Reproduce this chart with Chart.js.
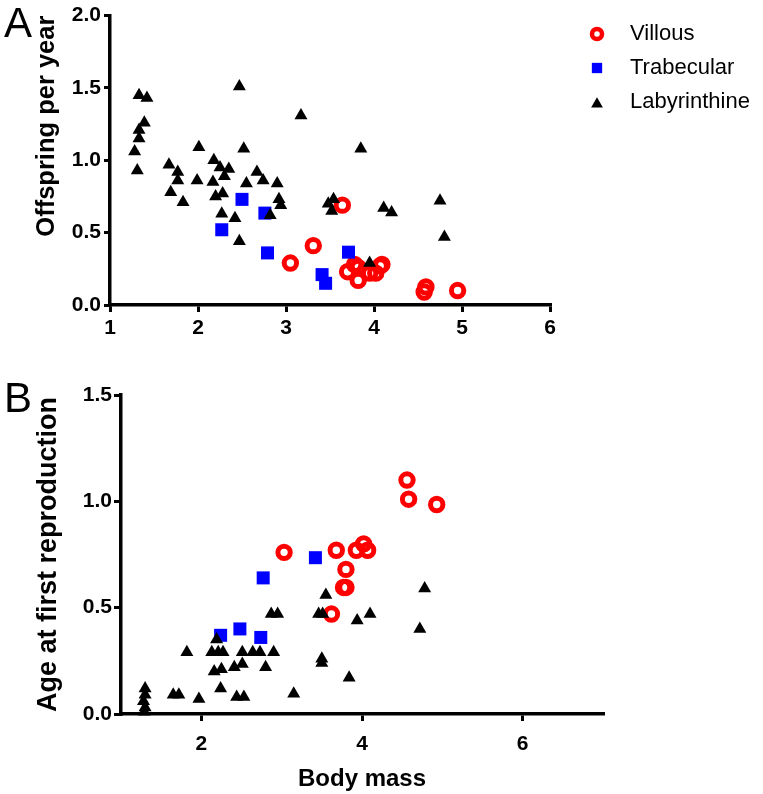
<!DOCTYPE html>
<html>
<head>
<meta charset="utf-8">
<script src="https://cdn.jsdelivr.net/npm/chart.js@4.4.1/dist/chart.umd.min.js"></script>
<style>
  body { margin: 0; background: #fff; width: 763px; height: 794px; overflow: hidden; position: relative; }
  canvas { position: absolute; left: 0; }
  #chartA { top: 0; }
  #chartB { top: 360px; }
  .panel { position: absolute; font-family: Arial, "Liberation Sans", sans-serif; font-size: 42px; line-height: 1; color: #000; }
</style>
</head>
<body>
<canvas id="chartA" width="763" height="350"></canvas>
<canvas id="chartB" width="763" height="434"></canvas>
<div class="panel" style="left:4px;top:2px;">A</div>
<div class="panel" style="left:4px;top:377px;">B</div>
<script>
// ===== Data: panel A (offspring per year vs body mass) =====
const seriesNames = ["Villous", "Trabecular", "Labyrinthine"];

const xA_vil = [3.05, 3.31, 3.64, 3.70, 3.78, 3.82, 3.82, 3.95, 4.02, 4.07, 4.09, 4.57, 4.59, 4.95];
const yA_vil = [0.29, 0.41, 0.69, 0.23, 0.28, 0.26, 0.17, 0.22, 0.22, 0.27, 0.28, 0.09, 0.125, 0.10];

const xA_tra = [2.27, 2.50, 2.76, 2.79, 3.41, 3.45, 3.71];
const yA_tra = [0.52, 0.73, 0.635, 0.36, 0.21, 0.15, 0.365];

const xA_lab = [1.33, 1.42, 1.39, 1.33, 1.33, 1.28, 1.31, 1.67, 1.77, 1.77, 1.69, 1.83, 2.01, 1.99, 2.17,
  2.18, 2.25, 2.35, 2.30, 2.20, 2.28, 2.27, 2.42, 2.47, 2.47, 2.52, 2.55, 2.67, 2.74, 2.82, 2.90, 2.92,
  2.94, 3.17, 3.85, 3.48, 3.54, 3.52, 4.11, 4.20, 4.75, 4.80, 3.95];
const yA_lab = [1.45, 1.43, 1.26, 1.21, 1.15, 1.06, 0.93, 0.97, 0.92, 0.86, 0.78, 0.71, 1.09, 0.86, 0.85,
  1.00, 0.95, 0.94, 0.89, 0.75, 0.77, 0.63, 0.60, 0.44, 1.51, 1.08, 0.84, 0.92, 0.86, 0.62, 0.84, 0.73,
  0.69, 1.31, 1.08, 0.70, 0.73, 0.65, 0.67, 0.64, 0.72, 0.47, 0.29];

// ===== Data: panel B (age at first reproduction vs body mass) =====
const xB_vil = [3.03, 3.68, 3.93, 4.02, 4.07, 3.80, 3.77, 3.80, 3.62, 4.56, 4.58, 4.93];
const yB_vil = [0.76, 0.77, 0.77, 0.80, 0.77, 0.68, 0.595, 0.595, 0.47, 1.10, 1.01, 0.985];

const xB_tra = [2.24, 2.48, 2.74, 2.77, 3.42];
const yB_tra = [0.37, 0.40, 0.36, 0.64, 0.735];

const xB_lab = [2.87, 2.95, 2.19, 1.82, 2.13, 2.21, 2.27, 2.51, 2.64, 2.73, 2.90, 2.16, 2.25, 2.41, 2.51,
  2.80, 2.24, 2.44, 2.53, 1.97, 1.65, 1.72, 1.30, 1.28, 1.30, 1.30, 1.29, 3.15, 3.55, 3.46, 3.51, 3.94,
  4.10, 4.78, 4.72, 3.50, 3.50, 3.84];
const yB_lab = [0.47, 0.47, 0.35, 0.29, 0.29, 0.29, 0.29, 0.29, 0.29, 0.29, 0.29, 0.20, 0.21, 0.22, 0.235,
  0.22, 0.12, 0.08, 0.08, 0.07, 0.09, 0.09, 0.12, 0.06, 0.03, 0.09, 0.01, 0.095, 0.56, 0.47, 0.47, 0.44,
  0.47, 0.59, 0.40, 0.26, 0.24, 0.17];

// ===== Axis ticks =====
const xTicksA = [1, 2, 3, 4, 5, 6];
const yTicksA = [0, 0.5, 1.0, 1.5, 2.0];
const xTicksB = [2, 4, 6];
const yTicksB = [0, 0.5, 1.0, 1.5];

// ===== Helpers =====
const FONT = "Arial, 'Liberation Sans', sans-serif";

function pts(xs, ys) {
  return xs.map((x, i) => ({ x, y: ys[i] }));
}

function makeDatasets(vx, vy, tx, ty, lx, ly) {
  return [
    { label: seriesNames[0], data: pts(vx, vy), order: 2, clip: false,
      pointStyle: "circle", pointRadius: 6.2, pointHoverRadius: 6.2, pointBorderWidth: 5,
      pointBackgroundColor: "rgba(0,0,0,0)", pointBorderColor: "#ff0000", legendRadius: 5, legendBorder: 4.5 },
    { label: seriesNames[1], data: pts(tx, ty), order: 1, clip: false,
      pointStyle: "rect", pointRadius: 9.2, pointHoverRadius: 9.2, pointBorderWidth: 0,
      pointBackgroundColor: "#0000ff", pointBorderColor: "#0000ff", legendRadius: 7.3, legendBorder: 0 },
    { label: seriesNames[2], data: pts(lx, ly), order: 0, clip: false,
      pointStyle: "triangle", pointRadius: 7.5, pointHoverRadius: 7.5, pointBorderWidth: 0,
      pointBackgroundColor: "#000", pointBorderColor: "#000", legendRadius: 6.8, legendBorder: 0 }
  ];
}

function axis(min, max, tickVals, opts) {
  return {
    type: "linear", min, max,
    afterBuildTicks: s => { s.ticks = tickVals.map(v => ({ value: v })); },
    afterFit: opts.fit,
    border: { display: true, color: "#000", width: 3.5 },
    grid: { drawOnChartArea: false, drawTicks: true, tickLength: opts.tickLength, color: "#000", lineWidth: 3 },
    ticks: { color: "#000", padding: opts.padding, font: { family: FONT, size: 21, weight: "bold" },
      callback: opts.fmt, maxRotation: 0, autoSkip: false },
    title: opts.title
  };
}

// legend at the right of panel A, drawn from the datasets
const sideLegend = {
  id: "sideLegend",
  afterDraw(chart, args, o) {
    if (!o.show) return;
    const ctx = chart.ctx;
    ctx.save();
    chart.data.datasets.forEach((ds, i) => {
      const y = o.top + i * o.step;
      ctx.fillStyle = ds.pointBackgroundColor;
      ctx.strokeStyle = ds.pointBorderColor;
      ctx.lineWidth = ds.legendBorder;
      const cy = ds.pointStyle === "triangle" ? y + 2 : y;
      Chart.helpers.drawPoint(ctx, { pointStyle: ds.pointStyle, radius: ds.legendRadius, borderWidth: ds.legendBorder }, o.markerX, cy);
      ctx.fillStyle = "#000";
      ctx.font = "22px " + FONT;
      ctx.textBaseline = "middle";
      ctx.textAlign = "left";
      ctx.fillText(ds.label, o.textX, y);
    });
    ctx.restore();
  }
};

Chart.defaults.animation = false;

// ===== Panel A =====
new Chart(document.getElementById("chartA"), {
  type: "scatter",
  data: { datasets: makeDatasets(xA_vil, yA_vil, xA_tra, yA_tra, xA_lab, yA_lab) },
  options: {
    responsive: false,
    layout: { padding: { left: 0, top: 13, right: 213, bottom: 5 } },
    plugins: {
      tooltip: { enabled: false },
      legend: { display: false },
      sideLegend: { show: true, markerX: 597, textX: 630, top: 34, step: 34 }
    },
    scales: {
      x: axis(1, 6, xTicksA, { tickLength: 7, padding: 4, fmt: v => v, fit: s => { s.height = 40; } }),
      y: axis(0, 2, yTicksA, { tickLength: 6, padding: 3, fmt: v => v.toFixed(1), fit: s => { s.width = 110; },
        title: { display: true, text: "Offspring per year", color: "#000", align: "end",
          font: { family: FONT, size: 25.5, weight: "bold" }, padding: { top: 32, bottom: 0 } } })
    }
  },
  plugins: [sideLegend]
});

// ===== Panel B =====
new Chart(document.getElementById("chartB"), {
  type: "scatter",
  data: { datasets: makeDatasets(xB_vil, yB_vil, xB_tra, yB_tra, xB_lab, yB_lab) },
  options: {
    responsive: false,
    layout: { padding: { left: 0, top: 35, right: 160, bottom: 0 } },
    plugins: { tooltip: { enabled: false }, legend: { display: false } },
    scales: {
      x: axis(1, 7, xTicksB, { tickLength: 7, padding: 11, fmt: v => v, fit: s => { s.height = 80; } }),
      y: axis(0, 1.5, yTicksB, { tickLength: 7, padding: 2, fmt: v => v.toFixed(1), fit: s => { s.width = 121; },
        title: { display: true, text: "Age at first reproduction", color: "#000",
          font: { family: FONT, size: 27, weight: "bold" }, padding: { top: 32, bottom: 0 } } })
    }
  }
});

// x-axis title of panel B
Chart.getChart("chartB").options.scales.x.title = { display: true, text: "Body mass", color: "#000",
  font: { family: FONT, size: 24, weight: "bold" }, padding: { top: 0, bottom: 0 } };
Chart.getChart("chartB").update();
</script>
</body>
</html>
